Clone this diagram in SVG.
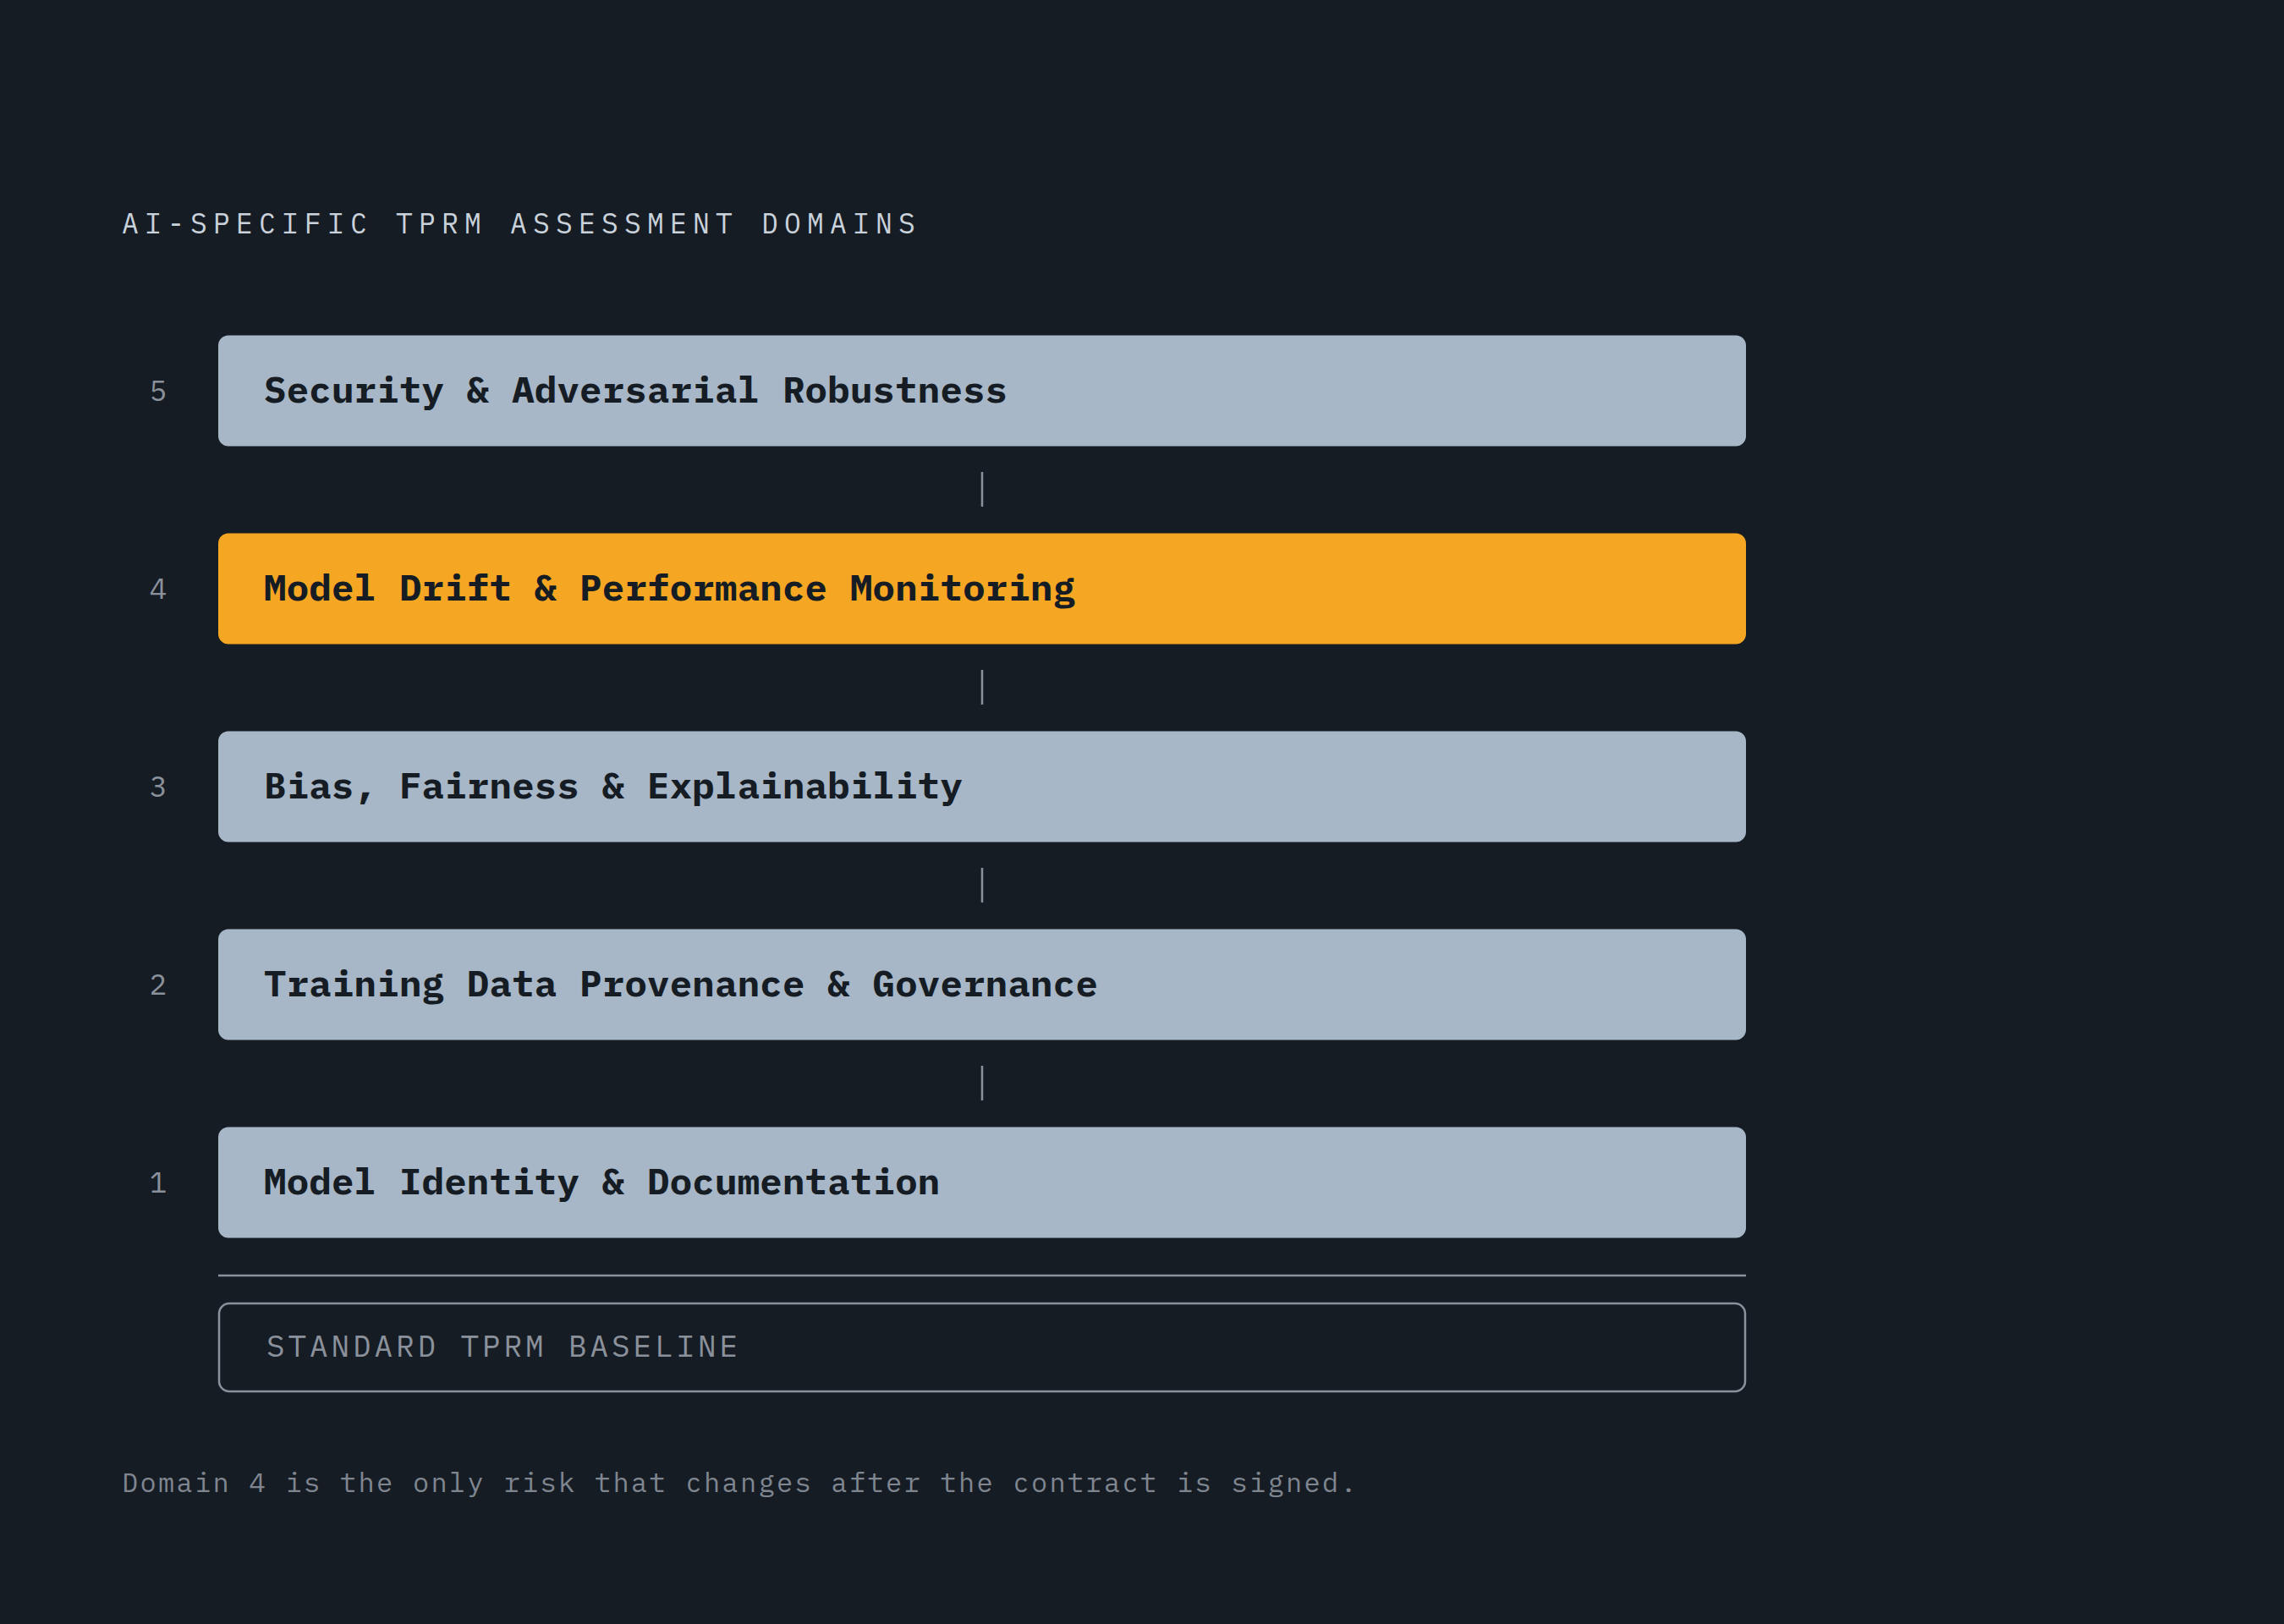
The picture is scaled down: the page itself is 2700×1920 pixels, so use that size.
<svg xmlns="http://www.w3.org/2000/svg" width="2700" height="1920" viewBox="0 0 2700 1920">
<style>
.mono{font-family:"IBM Plex Mono","DejaVu Sans Mono","Liberation Mono",monospace}
.title{font-size:33px;fill:#c9d1db;letter-spacing:7.2px}
.num{font-size:34px;fill:#8a919b;text-anchor:middle}
.box{fill:#a7b7c8}
.hot{fill:#f5a623}
.lbl{font-size:44px;font-weight:bold;fill:#161c24;letter-spacing:0.25px}
.conn{stroke:#8a919b;stroke-width:2.5}
.base{fill:#161c24;stroke:#8a919b;stroke-width:2.5}
.basetxt{font-size:36px;fill:#8a919b;letter-spacing:3.9px}
.foot{font-size:32px;fill:#7f8690;letter-spacing:2.3px}
</style>
<rect x="0" y="0" width="2700" height="1920" fill="#161c24"/>
<text class="mono title" x="144" y="276">AI-SPECIFIC TPRM ASSESSMENT DOMAINS</text>
<g id="connectors">
<line class="conn" x1="1161" y1="558" x2="1161" y2="599"/>
<line class="conn" x1="1161" y1="792" x2="1161" y2="833"/>
<line class="conn" x1="1161" y1="1026" x2="1161" y2="1067"/>
<line class="conn" x1="1161" y1="1260" x2="1161" y2="1301"/>
<line class="conn" x1="258" y1="1508" x2="2064" y2="1508"/>
</g>
<g id="domain5">
<text class="mono num" x="187" y="474">5</text>
<rect class="box" x="258" y="396.5" width="1806" height="131" rx="12"/>
<text class="mono lbl" x="312" y="476">Security &amp; Adversarial Robustness</text>
</g>
<g id="domain4">
<text class="mono num" x="187" y="708">4</text>
<rect class="hot" x="258" y="630.5" width="1806" height="131" rx="12"/>
<text class="mono lbl" x="312" y="710">Model Drift &amp; Performance Monitoring</text>
</g>
<g id="domain3">
<text class="mono num" x="187" y="942">3</text>
<rect class="box" x="258" y="864.5" width="1806" height="131" rx="12"/>
<text class="mono lbl" x="312" y="944">Bias, Fairness &amp; Explainability</text>
</g>
<g id="domain2">
<text class="mono num" x="187" y="1176">2</text>
<rect class="box" x="258" y="1098.5" width="1806" height="131" rx="12"/>
<text class="mono lbl" x="312" y="1178">Training Data Provenance &amp; Governance</text>
</g>
<g id="domain1">
<text class="mono num" x="187" y="1410">1</text>
<rect class="box" x="258" y="1332.5" width="1806" height="131" rx="12"/>
<text class="mono lbl" x="312" y="1412">Model Identity &amp; Documentation</text>
</g>
<g id="baseline">
<rect class="base" x="259" y="1541" width="1804" height="104" rx="12"/>
<text class="mono basetxt" x="315" y="1604">STANDARD TPRM BASELINE</text>
</g>
<text class="mono foot" x="144" y="1764">Domain 4 is the only risk that changes after the contract is signed.</text>
</svg>
